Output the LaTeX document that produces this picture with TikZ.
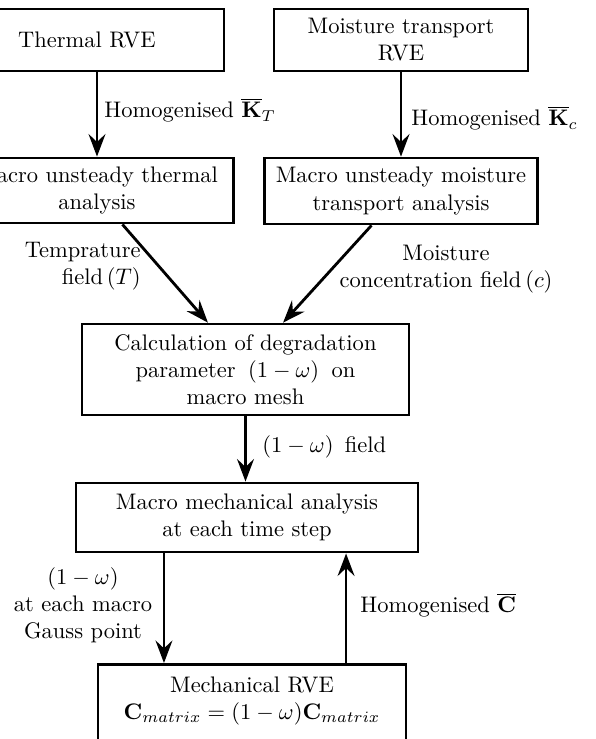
\documentclass[tikz,border=0pt]{standalone}
\usetikzlibrary{arrows.meta}
\tikzset{
  box/.style={draw, line width=1.25pt, align=center, inner sep=0pt},
  arr/.style={line width=1.25pt, -{Stealth[length=10pt,width=7.5pt,inset=3.5pt]}},
  lbl/.style={inner sep=0pt, align=center}
}
\begin{document}
\begin{tikzpicture}[x=0.4444pt, y=-0.4444pt]
\useasboundingbox (0,0) rectangle (595,739);
% boxes
\node[box, minimum width=112.9pt, minimum height=27.6pt] (trve) at (97,40) {Thermal RVE\kern9pt};
\node[box, minimum width=112.9pt, minimum height=27.6pt] (mrve) at (401,40) {Moisture transport\\RVE};
\node[box, minimum width=121.3pt, minimum height=28.9pt] (tmac) at (97,190.5) {Macro unsteady thermal\\analysis};
\node[box, minimum width=121.3pt, minimum height=29.3pt] (mmac) at (401,191) {Macro unsteady moisture\\transport analysis};
\node[box, minimum width=145.3pt, minimum height=40.4pt] (calc) at (245.5,369.5) {Calculation of degradation\\parameter\hspace{5.5pt}$(1-\omega)$\hspace{5.5pt}on\\macro mesh};
\node[box, minimum width=152pt, minimum height=30.7pt] (mech) at (247,517.5) {Macro mechanical analysis\\at each time step};
\node[box, minimum width=136.9pt, anchor=north, text height=24.4pt, text depth=18.7pt] (rve) at (252,663) {Mechanical RVE\\$\mathbf{C}_{matrix}=(1-\omega)\mathbf{C}_{matrix}$};
% connectors
\draw[arr] (trve.south) -- (tmac.north);
\draw[arr] (mrve.south) -- (mmac.north);
\draw[arr] ([xshift=11.3pt]tmac.south) -- ([xshift=-16.7pt]calc.north);
\draw[arr] ([xshift=-13.1pt]mmac.south) -- ([xshift=16.7pt]calc.north);
\draw[arr] (calc.south) -- (calc.south |- mech.north);
\coordinate (d1) at ([xshift=-36.9pt]mech.south);
\draw[arr] (d1) -- (d1 |- rve.north);
\coordinate (u1) at ([xshift=41.8pt]rve.north);
\draw[arr] (u1) -- (u1 |- mech.south);
% labels
\node[lbl, anchor=west] (l1) at (104,110) {Homogenised $\overline{\mathbf{K}}_T$};
\node[lbl, anchor=west] (l2) at (411,118) {Homogenised $\overline{\mathbf{K}}_c$};
\node[lbl, align=right, anchor=east] (l3) at (141,266) {Temprature\\field\,$(T)$};
\node[lbl] (l4) at (446,269) {Moisture\\concentration field\,$(c)$};
\node[lbl, anchor=west] (l5) at (262,447) {$(1-\omega)$\hspace{5pt}field};
\node[lbl] (l6) at (83,605) {$(1-\omega)$\\at each macro\\Gauss point};
\node[lbl, anchor=west] (l7) at (360,605) {Homogenised $\overline{\mathbf{C}}$};
\end{tikzpicture}
\end{document}
